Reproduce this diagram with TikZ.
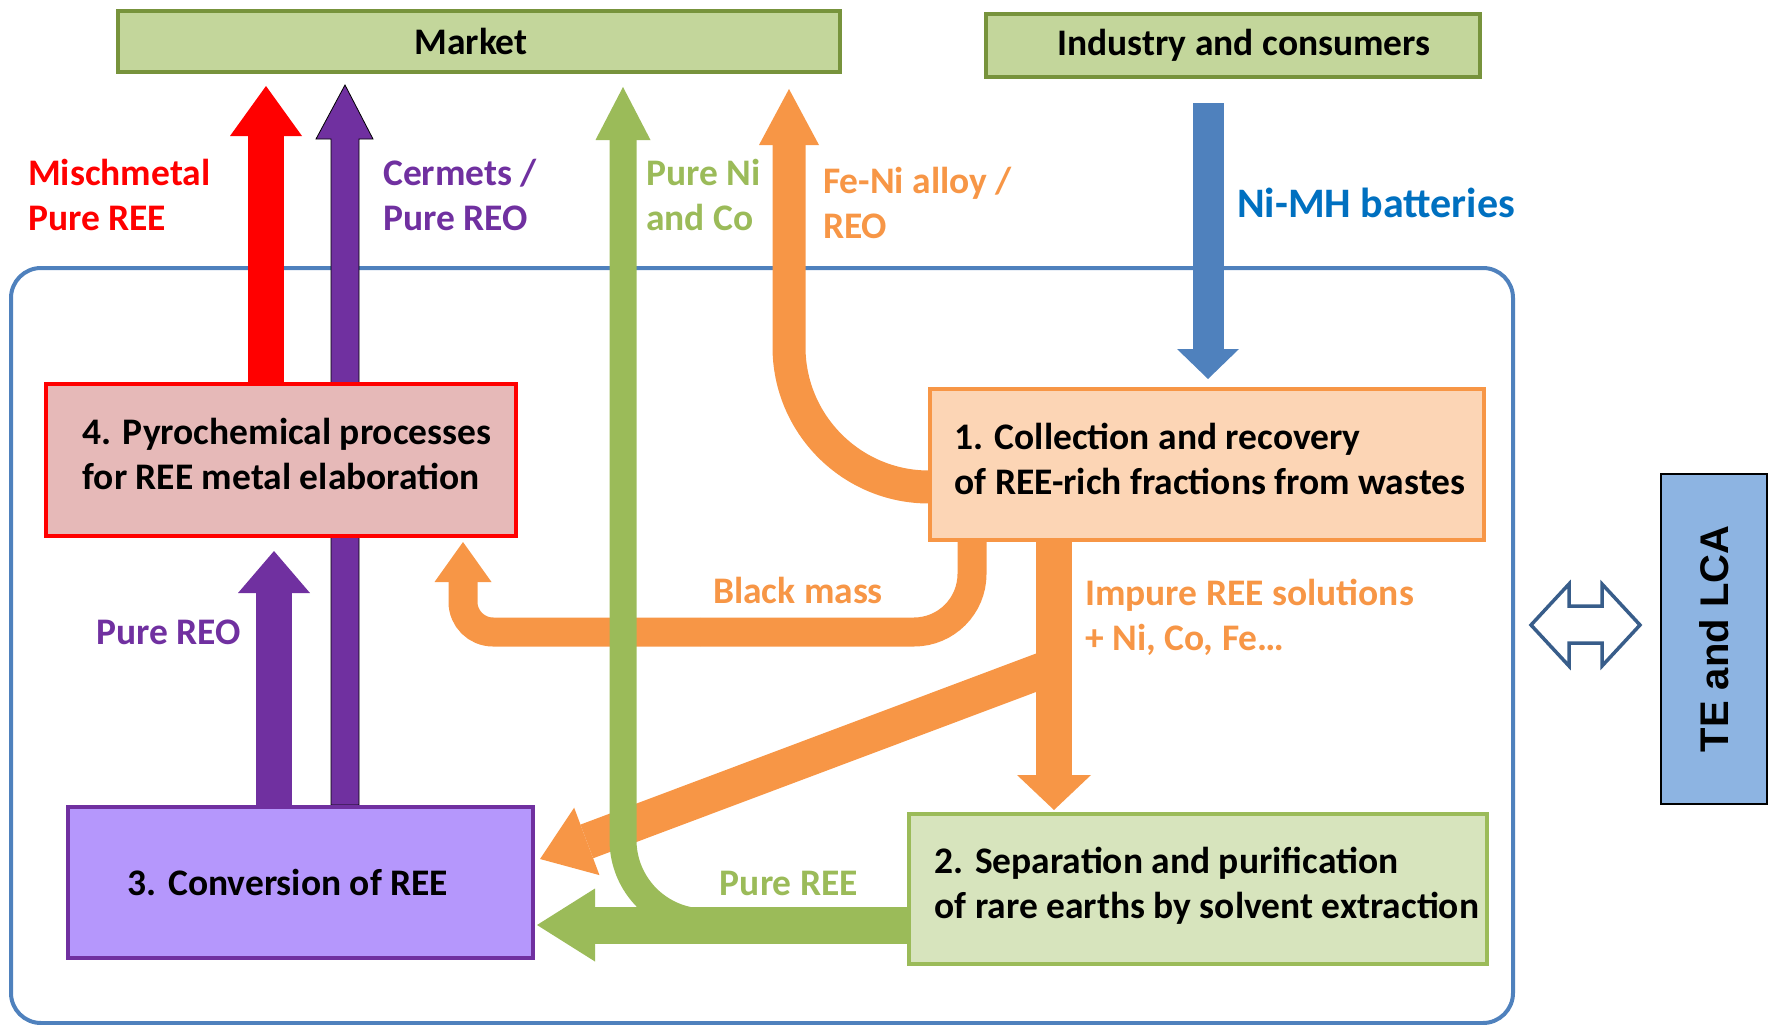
\documentclass[tikz,border=0pt]{standalone}
\usepackage{fontspec}
\setmainfont{Carlito}
\newfontfamily\arialfont{Liberation Sans}
\usetikzlibrary{calc}

\definecolor{mktfill}{HTML}{C3D69B}
\definecolor{mktdraw}{HTML}{77933C}
\definecolor{pyrofill}{HTML}{E6B9B8}
\definecolor{convfill}{HTML}{B597FC}
\definecolor{reepurple}{HTML}{7030A0}
\definecolor{collfill}{HTML}{FCD5B5}
\definecolor{reeorange}{HTML}{F79646}
\definecolor{sepfill}{HTML}{D7E4BD}
\definecolor{reegreen}{HTML}{9BBB59}
\definecolor{tefill}{HTML}{8DB4E2}
\definecolor{frameblue}{HTML}{4F81BD}
\definecolor{textblue}{HTML}{0070C0}
\definecolor{twinblue}{HTML}{385D8A}

\pgfdeclarelayer{frame}
\pgfdeclarelayer{flows}
\pgfsetlayers{frame,flows,main}

\tikzset{
    box/.style={draw, line width=4pt, align=left, inner sep=0pt},
    tag/.style={inner sep=0pt, align=left, anchor=west}
}

\begin{document}
\begin{tikzpicture}[x=1pt, y=-1pt, every node/.style={font=\bfseries\fontsize{37.5}{45}\selectfont}]
    \useasboundingbox (0,0) rectangle (1773,1025);

    % boxes
    \node[box, draw=mktdraw, fill=mktfill, minimum width=722pt, minimum height=61pt] (market) at (479,41.5) {Market\hspace*{16pt}};
    \node[box, draw=mktdraw, fill=mktfill, minimum width=494pt, minimum height=63pt] (industry) at (1233,45.5) {\hspace*{22pt}Industry and consumers};
    \node[box, draw=red, fill=pyrofill, minimum width=470pt, minimum height=152pt] (pyro) at (281,460) {};
    \node[box, draw=reepurple, fill=convfill, minimum width=465pt, minimum height=151pt] (conv) at (300,882.5) {3. Conversion of REE\hspace*{24pt}};
    \node[box, draw=reeorange, fill=collfill, minimum width=554pt, minimum height=151pt] (coll) at (1207,464.5) {};
    \node[box, draw=reegreen, fill=sepfill, minimum width=578pt, minimum height=150pt] (sep) at (1198,889) {};
    \node[draw=black, line width=1.5pt, fill=tefill, minimum width=106pt, minimum height=330pt, inner sep=0pt] (te) at (1714,639) {};

    \node[inner sep=0pt, align=left] (pyrotext) at ([xshift=6pt, yshift=6pt]pyro.center) {4. Pyrochemical processes\\for REE metal elaboration};
    \node[inner sep=0pt, align=left] (colltext) at ([xshift=3pt, yshift=6pt]coll.center) {1. Collection and recovery\\of REE-rich fractions from wastes};
    \node[inner sep=0pt, align=left] (septext) at ([xshift=9pt, yshift=3pt]sep.center) {2. Separation and purification\\of rare earths by solvent extraction};
    \node[rotate=90, font=\arialfont\bfseries\fontsize{40}{48}\selectfont] (tetext) at (te.center) {TE and LCA};

    % free ends of the flows
    \coordinate (mischtip) at (266,86);
    \coordinate (cermtip) at (345,85);
    \coordinate (nicotip) at (623,87);
    \coordinate (fenitip) at (789,89);
    \coordinate (nimhtop) at (1208,103);
    \coordinate (nimhtip) at (1208,379);
    \coordinate (bmtip) at (463,542);
    \coordinate (reotip) at (274,551);
    \coordinate (imptip) at (1054,810);
    \coordinate (splitpt) at (1054,666);
    \coordinate (diagtip) at (540,859);
    \coordinate (reetip) at (537,925);
    \coordinate (twin) at (1585,625);

    \begin{pgfonlayer}{frame}
        \draw[frameblue, line width=4pt, rounded corners=30pt] (11,268) rectangle (1513,1023);
    \end{pgfonlayer}

    \begin{pgfonlayer}{flows}
        % orange flows
        \draw[reeorange, line width=36pt] (splitpt) -- ($(diagtip)!50pt!(splitpt)$) coordinate (diagbase);
        \fill[reeorange] (diagtip) -- ($(diagbase)!36pt!90:(diagtip)$) -- ($(diagbase)!36pt!-90:(diagtip)$) -- cycle;
        \draw[reeorange, line width=36pt] (imptip |- coll.south) -- ($(imptip)+(0,-35)$);
        \fill[reeorange] (imptip) -- ++(37,-35) -- ++(-74,0) -- cycle;
        \draw[reeorange, line width=29pt, rounded corners=58pt] (972,0 |- coll.south) -- (972,632) -- (700,632);
        \draw[reeorange, line width=29pt, rounded corners=30pt] (700,632) -- (463,632) -- ($(bmtip)+(0,40)$);
        \fill[reeorange] (bmtip) -- ++(28.5,40) -- ++(-57,0) -- cycle;
        \draw[reeorange, line width=33pt, rounded corners=140pt] ($(fenitip)+(0,56)$) -- (789,487) -- (coll.west |- 0,487);
        \fill[reeorange] (fenitip) -- ++(30,56) -- ++(-60,0) -- cycle;

        % green flows
        \draw[reegreen, line width=27pt, rounded corners=82pt] ($(nicotip)+(0,53)$) -- (623,922) -- (sep.west |- 0,922);
        \fill[reegreen] (nicotip) -- ++(27.5,53) -- ++(-55,0) -- cycle;
        \draw[reegreen, line width=37pt] (sep.west |- reetip) -- ($(reetip)+(58,0)$);
        \fill[reegreen] (reetip) -- ++(58,-36.5) -- ++(0,73) -- cycle;

        % purple and red flows
        \draw[reepurple, line width=36pt] (reotip |- conv.north) -- ($(reotip)+(0,42)$);
        \fill[reepurple] (reotip) -- ++(36,42) -- ++(-72,0) -- cycle;
        \filldraw[fill=reepurple, draw=black, line width=0.8pt] ($(cermtip |- conv.north)+(-14,0)$) -- ($(cermtip)+(-14,54)$) -- ++(-15,0) -- (cermtip)
            -- ($(cermtip)+(28,54)$) -- ++(-14,0) -- ($(cermtip |- conv.north)+(14,0)$) -- cycle;
        \draw[red, line width=36pt] (mischtip |- pyro.north) -- ($(mischtip)+(0,50)$);
        \fill[red] (mischtip) -- ++(36,50) -- ++(-72,0) -- cycle;

        % blue flow
        \draw[frameblue, line width=31pt] (nimhtop) -- ($(nimhtip)+(0,-30)$);
        \fill[frameblue] (nimhtip) -- ++(31,-30) -- ++(-62,0) -- cycle;
    \end{pgfonlayer}

    \filldraw[fill=white, draw=twinblue, line width=3.5pt] ($(twin)+(-54,0)$) -- ++(38,-41) -- ++(0,22) -- ++(33,0) -- ++(0,-22) -- ++(38,41)
        -- ++(-38,41) -- ++(0,-23) -- ++(-33,0) -- ++(0,23) -- cycle;

    % labels
    \node[tag, text=red] (mischlbl) at (28,195) {Mischmetal\\Pure REE};
    \node[tag, text=reepurple] (cermlbl) at (383,195) {Cermets /\\Pure REO};
    \node[tag, text=reegreen] (nicolbl) at (646,195) {Pure Ni\\and Co};
    \node[tag, text=reeorange] (fenilbl) at (823,203) {Fe-Ni alloy /\\REO};
    \node[tag, text=textblue, font=\bfseries\fontsize{42}{50}\selectfont] (nimhlbl) at (1237,203) {Ni-MH batteries};
    \node[inner sep=0pt, text=reeorange] (bmlbl) at (798,590) {Black mass};
    \node[tag, text=reeorange] (implbl) at (1085,617) {Impure REE solutions\\+ Ni, Co, Fe…};
    \node[tag, text=reepurple] (reolbl) at (96,632) {Pure REO};
    \node[inner sep=0pt, text=reegreen] (reelbl) at (789,883) {Pure REE};
\end{tikzpicture}
\end{document}
